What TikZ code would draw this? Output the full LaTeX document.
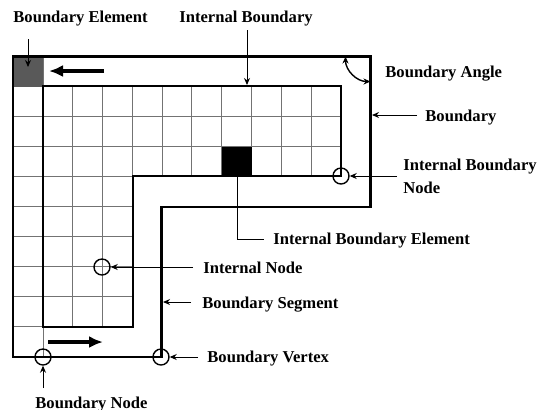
\documentclass[tikz,border=0pt]{standalone}
\usepackage{fontspec}
\setmainfont{Liberation Serif}
\usetikzlibrary{arrows.meta}

\begin{document}
\begin{tikzpicture}[
		x=0.5pt,y=-0.5pt,
		>={Stealth[length=3.5pt,width=3pt]},
		every node/.style={font=\fontsize{8.3}{11.5}\selectfont\bfseries},
		lbl/.style={anchor=base west,inner sep=0pt},
		leader/.style={->,line width=0.5pt},
		gridline/.style={black!55,line width=0.45pt},
		wall/.style={line width=1.2pt},
		ring/.style={draw,circle,line width=0.7pt,minimum size=8pt,inner sep=0pt},
		cell/.style={inner sep=0pt,minimum width=15pt,minimum height=15pt},
		flow/.style={-{Latex[length=7pt,width=6pt]},line width=2.2pt}
		]
		
		\useasboundingbox (0,0) rectangle (549,409);
		
		% =========================
		% Grid of elements
		% =========================
		\foreach \i in {0,...,4}
			\draw[gridline] ({13+29.82*\i},86) -- ({13+29.82*\i},327);
		\foreach \i in {5,...,11}
			\draw[gridline] ({13+29.82*\i},86) -- ({13+29.82*\i},176);
		\foreach \j in {0,...,3}
			\draw[gridline] (13,{86+30.1*\j}) -- (341,{86+30.1*\j});
		\foreach \j in {4,...,8}
			\draw[gridline] (13,{86+30.1*\j}) -- (133,{86+30.1*\j});
		\draw[gridline] (43,56.5) -- (43,357);
		
		% boundary element and internal boundary element
		\node[cell,fill=black!65,anchor=north west] (bndElem) at (13,56.5) {};
		\node[cell,fill=black,anchor=north west] (intBndElem) at (221.8,146.2) {};
		
		% =========================
		% Boundaries
		% =========================
		\draw[wall] (43,86) -- (341,86) -- (341,176) -- (133,176) -- (133,327) -- (43,327) -- cycle;
		\draw[wall] (13,56.5) -- (370.5,56.5) -- (370.5,207) -- (161.5,207) -- (161.5,357) -- (13,357) -- cycle;
		
		% boundary angle
		\draw[<->,line width=0.7pt] (345.5,56.5) arc[start angle=180,end angle=270,radius=12.5pt];
		
		% marching direction
		\coordinate (topFrom) at (104,71);
		\coordinate (topTo) at (49,71);
		\coordinate (botFrom) at (48,342);
		\coordinate (botTo) at (103,342);
		\draw[flow] (topFrom) -- (topTo);
		\draw[flow] (botFrom) -- (botTo);
		
		% nodes
		\node[ring] (bndNode) at (43,357) {};
		\node[ring] (bndVertex) at (161,357) {};
		\node[ring] (intNode) at (102,267) {};
		\node[ring] (intBndNode) at (341,176) {};
		
		% =========================
		% Labels
		% =========================
		\node[lbl] (lblBndElem) at (13,22.5) {Boundary Element};
		\node[lbl] (lblIntBnd) at (179,22.5) {Internal Boundary};
		\node[lbl] (lblBndAngle) at (385,77) {Boundary Angle};
		\node[lbl] (lblBnd) at (425,121.5) {Boundary};
		\node[anchor=west,inner sep=0pt,align=left] (lblIntBndNode) at (403,176) {Internal Boundary\\Node};
		\node[lbl] (lblIntBndElem) at (273,244.5) {Internal Boundary Element};
		\node[lbl] (lblIntNode) at (203,273) {Internal Node};
		\node[lbl] (lblBndSeg) at (202,308) {Boundary Segment};
		\node[lbl] (lblBndVertex) at (207,362) {Boundary Vertex};
		\node[lbl] (lblBndNode) at (35,408) {Boundary Node};
		
		% leaders
		\coordinate (beTail) at (28,39);
		\coordinate (beTip) at (28,67);
		\coordinate (ibTail) at (247,30);
		\coordinate (ibTip) at (247,85);
		\coordinate (bTail) at (417,115);
		\coordinate (bTip) at (372,115);
		\coordinate (ibeEnd) at (264,239);
		\coordinate (inTail) at (193,267);
		\coordinate (bsTail) at (191,302);
		\coordinate (bsTip) at (163,302);
		\coordinate (bvTail) at (198,357);
		\coordinate (bnTail) at (43,388);
		
		\draw[leader] (beTail) -- (beTip);
		\draw[leader] (ibTail) -- (ibTip);
		\draw[leader] (bTail) -- (bTip);
		\draw[leader] ([xshift=-3pt]lblIntBndNode.west) -- (intBndNode.east);
		\draw[line width=0.5pt] (intBndElem.south) |- (ibeEnd);
		\draw[leader] (inTail) -- (intNode.east);
		\draw[leader] (bsTail) -- (bsTip);
		\draw[leader] (bvTail) -- (bndVertex.east);
		\draw[leader] (bnTail) -- (bndNode.south);
		
	\end{tikzpicture}
\end{document}
